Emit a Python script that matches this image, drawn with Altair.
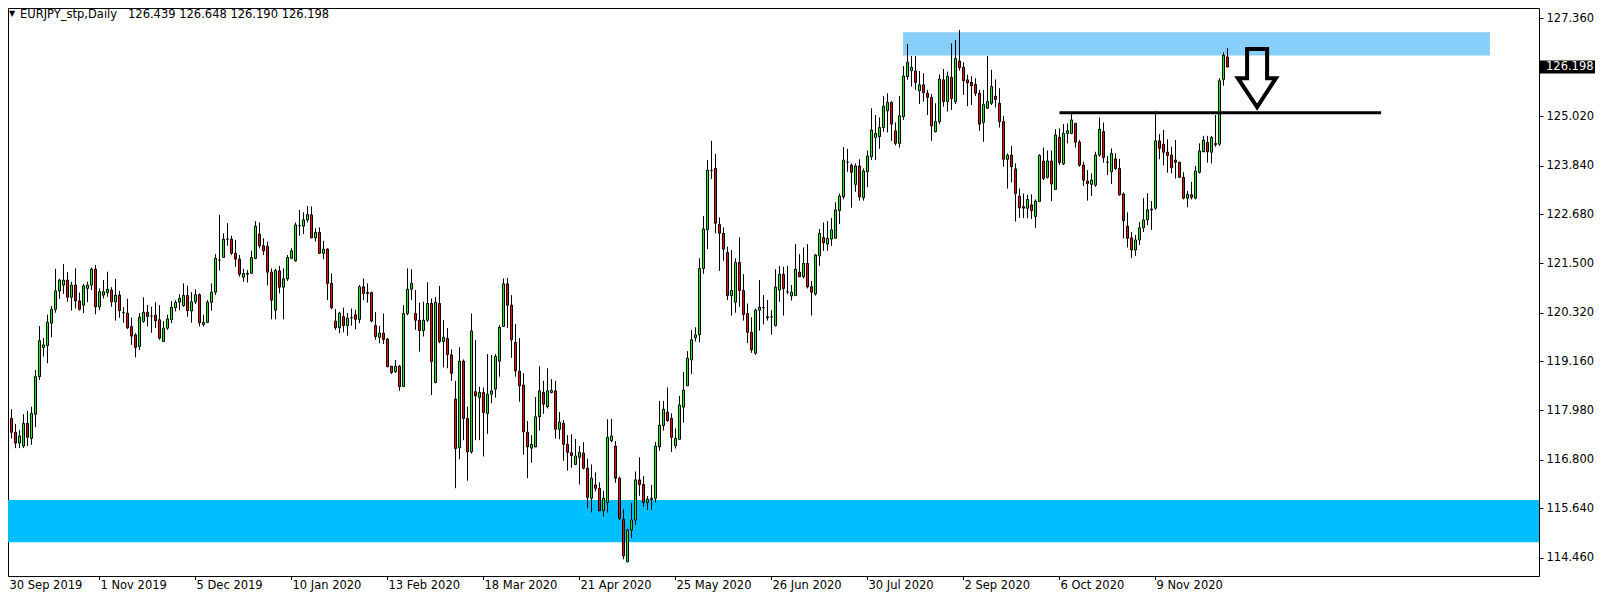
import altair as alt
import pandas as pd
import numpy as np

# ---------------- data ----------------
opens = [118.11,117.79,117.79,117.46,117.20,117.13,117.67,117.31,117.89,118.79,
119.49,119.53,120.07,120.40,120.84,120.98,121.10,120.69,120.98,120.60,
120.50,120.90,120.98,121.36,120.46,120.74,120.80,120.86,120.58,120.74,
120.32,120.31,119.99,119.79,119.51,120.11,120.33,120.24,120.26,120.15,
119.63,119.95,120.15,120.44,120.57,120.49,120.73,120.36,120.58,120.75,
120.04,120.09,120.57,120.81,121.58,121.64,122.08,122.08,121.74,121.60,
121.17,121.24,121.26,121.62,122.20,121.92,121.91,121.29,120.38,121.32,
120.93,121.13,121.62,121.56,122.40,122.39,122.54,122.66,122.11,122.24,
121.74,121.84,121.02,120.12,119.96,120.23,120.01,120.20,120.27,120.16,
120.94,120.80,120.80,120.01,119.73,119.83,119.69,119.04,118.91,119.04,
118.55,120.30,120.88,120.30,120.14,119.89,120.14,120.54,118.65,120.54,
119.63,119.70,119.31,118.25,117.09,119.16,117.79,116.99,118.43,118.29,
118.41,117.91,118.37,118.49,119.16,119.99,121.01,120.50,119.61,118.92,
118.59,117.46,117.08,117.11,117.83,118.41,118.07,118.41,118.45,117.53,
117.67,117.17,116.97,116.69,116.86,116.96,116.60,115.88,116.20,116.12,
115.58,115.78,117.26,117.13,116.36,115.38,114.36,115.12,115.36,116.32,
116.21,115.78,115.85,115.88,117.11,117.62,117.94,117.79,117.14,117.29,
118.06,118.57,119.19,119.72,119.79,121.38,122.31,123.72,123.77,122.43,
122.22,121.76,120.73,120.57,121.52,120.85,120.30,119.85,119.35,120.38,
120.44,120.22,120.22,120.01,120.86,121.24,120.82,120.72,120.73,121.29,
121.18,121.50,120.94,120.77,121.68,122.12,121.96,122.08,122.10,122.76,
123.09,123.92,123.85,123.39,123.83,123.07,123.69,124.05,124.51,124.53,
124.75,125.15,125.35,124.67,124.37,125.01,125.97,126.11,126.10,125.63,
125.77,125.57,125.47,124.65,124.89,125.89,125.37,125.95,125.37,126.34,
126.19,125.89,125.83,125.78,125.57,124.87,125.21,125.33,125.50,125.33,
124.89,123.99,124.09,123.76,123.11,122.86,122.82,122.90,122.62,122.98,
123.95,123.56,123.95,123.27,124.52,123.88,124.61,124.61,124.85,124.40,
123.85,123.47,123.39,123.37,124.09,124.65,123.92,123.69,124.00,123.77,
123.16,122.39,122.11,121.82,122.06,122.35,122.54,122.80,122.82,124.43,
124.35,124.16,124.09,123.97,123.92,123.56,123.06,123.14,123.06,123.68,
124.17,124.39,124.16,124.37,124.35,125.90,126.439]

highs = [118.19,118.19,118.01,117.66,117.51,117.89,117.97,118.07,118.95,120.00,
119.71,120.27,120.48,121.37,121.13,121.48,121.29,121.06,121.38,120.80,
121.01,121.06,121.40,121.46,120.90,121.10,121.30,120.93,121.13,120.84,
120.45,120.65,120.20,119.83,120.31,120.69,120.50,120.46,120.57,120.50,
120.12,120.27,120.60,120.62,120.76,121.02,120.96,120.81,120.88,120.78,
120.27,120.62,121.02,121.72,122.66,122.22,122.46,122.16,122.06,121.70,
121.37,121.34,121.80,122.51,122.48,122.10,122.02,121.38,121.37,121.44,
121.38,121.70,121.86,122.48,122.78,122.72,122.87,122.86,122.34,122.36,
122.04,121.86,121.26,120.41,120.34,120.44,120.31,120.42,120.39,120.98,
121.14,121.02,120.82,120.33,120.00,120.30,119.71,119.04,119.19,119.07,
120.50,121.38,121.36,120.86,120.56,120.58,121.05,120.66,120.69,120.96,
120.14,119.95,119.44,118.69,119.49,119.20,118.07,120.30,119.67,118.55,
118.53,119.33,119.31,119.33,120.02,121.14,121.15,120.74,120.05,119.71,
118.87,117.73,117.39,118.30,119.04,118.69,118.99,118.73,118.69,117.94,
117.75,117.39,117.41,117.30,117.13,117.22,116.83,116.69,116.50,116.26,
116.06,117.77,117.78,117.25,116.40,115.62,115.15,115.77,116.52,116.86,
116.41,115.93,116.20,117.23,118.21,118.21,118.53,117.91,117.55,118.33,
118.90,119.40,119.91,119.97,121.62,122.63,123.97,124.43,124.12,122.60,
122.36,121.90,121.82,121.62,122.12,121.24,120.54,120.21,120.42,121.10,
120.74,120.62,120.38,121.36,121.44,121.42,121.44,120.98,121.96,121.72,
121.88,121.96,121.08,121.72,122.32,122.48,122.51,122.59,122.96,123.17,
124.28,124.24,123.89,123.89,123.99,123.77,124.20,125.21,125.05,124.99,
125.50,125.57,125.38,124.87,125.50,126.22,126.75,126.46,126.46,126.10,
126.05,125.65,125.55,125.33,126.02,126.15,126.09,126.76,126.84,127.08,
126.31,126.01,125.98,125.93,125.65,125.65,126.46,126.13,125.90,125.69,
125.03,124.13,124.31,123.89,123.29,123.17,123.14,123.15,123.03,124.11,
124.27,124.20,124.20,124.71,124.73,124.83,124.85,125.07,124.85,124.45,
123.93,123.73,123.65,124.17,124.99,124.87,124.07,124.25,124.13,124.00,
123.20,122.72,122.25,122.18,122.49,123.06,123.18,122.99,125.14,124.59,
124.69,124.47,124.29,124.45,123.93,123.68,123.23,123.45,123.83,124.37,
124.55,124.55,124.55,125.05,125.93,126.55,126.648]

lows = [117.53,117.51,117.31,117.08,117.08,117.08,117.13,117.16,117.58,118.71,
119.27,119.11,119.73,120.32,120.65,120.77,120.58,120.37,120.42,120.37,
120.31,120.57,120.86,120.28,120.38,120.66,120.70,120.46,120.13,120.20,
120.08,119.93,119.55,119.25,119.43,120.08,119.99,119.84,119.95,119.67,
119.63,119.91,120.07,120.35,120.38,120.46,120.22,120.08,120.53,119.99,
119.99,120.07,120.37,120.74,121.33,121.64,121.92,121.70,121.42,121.18,
121.06,121.04,121.25,121.60,121.86,121.70,120.97,120.16,120.16,120.78,
120.16,121.08,121.60,121.54,122.16,122.20,122.48,122.11,122.02,121.72,
121.60,120.62,120.40,119.91,119.83,119.85,119.77,120.01,119.92,120.07,
120.62,120.56,120.09,119.67,119.59,119.57,119.01,118.85,118.88,118.45,
118.55,120.26,120.62,119.91,119.39,119.75,120.10,118.35,118.63,119.59,
119.01,118.99,118.69,116.12,116.81,117.27,116.30,116.95,117.27,117.27,
116.88,117.42,118.15,118.29,118.79,119.99,119.95,119.24,118.79,118.19,
116.92,116.36,116.73,117.10,117.50,117.90,118.03,118.39,117.31,117.29,
116.78,116.54,116.61,116.68,116.21,116.57,115.64,115.54,116.04,115.58,
115.44,115.54,117.22,116.25,115.36,114.42,114.35,114.93,115.24,115.94,
115.68,115.60,115.60,115.78,117.02,117.50,117.71,116.99,117.07,117.29,
117.69,118.57,118.85,119.63,119.61,121.25,121.84,123.52,122.22,121.32,
121.56,120.62,120.25,120.32,120.46,120.13,119.59,119.36,119.31,119.89,
120.04,120.13,119.79,119.99,120.58,120.25,120.76,120.61,120.72,121.17,
121.14,120.90,120.25,120.73,121.44,121.80,121.80,121.92,122.10,122.44,
123.03,123.69,122.83,123.21,123.00,123.00,123.32,123.97,123.97,124.24,
124.65,124.63,124.43,124.32,124.27,124.93,125.89,125.73,125.65,125.31,
125.37,125.05,124.43,124.63,124.83,125.25,125.13,125.17,125.31,126.11,
125.53,125.26,125.29,125.50,124.67,124.41,125.19,125.29,125.23,124.75,
123.81,123.29,123.44,122.50,122.59,122.58,122.58,122.56,122.35,122.98,
123.49,123.53,122.99,123.27,123.85,123.85,124.37,124.59,124.27,123.81,
123.35,123.00,123.11,123.33,124.05,123.91,123.61,123.40,123.73,123.12,
122.10,121.88,121.63,121.68,121.94,122.25,122.42,122.30,122.78,123.99,
123.84,123.67,123.65,123.53,123.55,123.03,122.84,123.03,123.03,123.65,
124.16,123.91,123.89,124.29,124.31,125.75,126.190]

closes = [117.77,117.78,117.46,117.20,117.37,117.67,117.34,117.91,118.79,119.65,
119.55,120.09,120.40,120.84,121.10,121.10,120.69,120.98,120.60,120.40,
120.96,120.98,121.36,120.46,120.82,120.82,120.88,120.58,120.74,120.37,
120.32,119.96,119.76,119.49,120.21,120.33,120.23,120.24,120.13,119.71,
119.95,120.17,120.45,120.57,120.66,120.73,120.37,120.58,120.75,120.08,
120.09,120.57,120.81,121.62,121.58,122.08,122.08,121.74,121.60,121.24,
121.26,121.26,121.64,122.39,121.92,121.80,121.29,120.62,121.33,120.93,
121.13,121.64,121.80,122.42,122.40,122.54,122.67,122.11,122.24,121.74,
121.84,121.02,120.44,119.96,120.31,120.01,120.19,120.20,120.16,120.94,
120.78,120.78,120.12,119.75,119.83,119.68,119.03,118.89,119.04,118.55,
120.30,120.88,121.02,120.14,119.89,120.14,120.54,119.15,120.57,119.63,
119.73,119.32,118.87,117.07,119.16,117.79,116.99,119.88,118.33,118.41,
117.93,118.37,118.45,119.27,119.97,121.01,120.50,119.67,118.93,118.57,
117.47,117.11,117.17,117.83,118.45,118.13,118.45,118.46,117.53,117.70,
117.17,116.98,116.90,116.89,116.98,116.60,115.90,116.36,116.12,115.58,
115.88,117.34,117.37,116.36,115.40,114.50,115.12,115.36,116.32,116.21,
115.78,115.86,115.88,117.13,117.63,118.01,117.74,117.34,117.31,118.11,
118.47,119.23,119.67,119.79,121.38,122.32,123.73,123.72,122.46,122.22,
121.84,120.73,120.85,121.52,120.85,120.28,119.85,119.43,120.38,120.45,
120.44,120.20,120.22,120.93,121.24,120.90,120.82,120.81,121.36,121.18,
121.50,120.94,120.81,121.70,122.22,121.99,122.10,122.30,122.78,123.11,
123.97,123.92,123.68,123.83,123.09,123.71,124.07,124.69,124.61,124.75,
125.26,125.35,124.83,124.37,125.03,125.98,126.31,126.19,125.83,125.77,
125.58,125.47,124.79,124.89,125.91,125.37,125.98,125.44,126.40,126.18,
125.87,125.82,125.75,125.57,124.83,125.30,125.37,125.73,125.42,124.89,
123.99,124.09,123.81,123.17,122.83,122.82,123.03,122.76,122.99,124.08,
123.53,123.95,123.40,124.57,123.91,124.61,124.67,124.93,124.40,123.85,
123.49,123.41,123.49,124.09,124.71,124.03,123.92,124.13,123.77,123.14,
122.52,122.10,121.82,122.06,122.35,122.54,122.78,122.78,124.43,124.25,
124.16,124.08,123.79,123.92,123.56,123.06,123.15,123.08,123.71,124.19,
124.45,124.17,124.51,124.34,125.87,126.48,126.198]

date_idx = [0, 24, 48, 72, 96, 120, 144, 168, 192, 216, 240, 264, 288]
date_txt = ["30 Sep 2019", "1 Nov 2019", "5 Dec 2019", "10 Jan 2020", "13 Feb 2020",
            "18 Mar 2020", "21 Apr 2020", "25 May 2020", "26 Jun 2020", "30 Jul 2020",
            "2 Sep 2020", "6 Oct 2020", "9 Nov 2020"]
price_ticks = [127.36, 125.02, 123.84, 122.68, 121.50, 120.32, 119.16, 117.98, 116.80, 115.64, 114.46]
last_price = 126.198
title_name = "EURJPY_stp,Daily"
title_ohlc = "126.439 126.648 126.190 126.198"

# zones / annotations (in bar-index and price units)
upper_zone = {"i1": 224.9, "i2": 371.6, "p1": 127.03, "p2": 126.47}
lower_zone = {"p1": 115.84, "p2": 114.83}
level_line = {"i1": 264.0, "i2": 344.4, "p": 125.10}
arrow_i = [310.9, 315.9, 315.9, 318.1, 313.4, 308.6, 310.9, 310.9]
arrow_p = [126.63, 126.63, 125.93, 125.93, 125.24, 125.93, 125.93, 126.63]

# ---------------- build ----------------
W, H = 1531, 568
FONT = "DejaVu Sans"
FS = 11.5

n = len(opens)
df = pd.DataFrame({"i": np.arange(n), "o": opens, "h": highs, "l": lows, "c": closes})
df["top"] = df[["o", "c"]].max(axis=1)
df["bot"] = df[["o", "c"]].min(axis=1)
df["dir"] = np.where(df["c"] >= df["o"], "up", "down")
df["x1"] = df["i"] - 0.25
df["x2"] = df["i"] + 0.25

XS = alt.Scale(domain=[1.125, 383.875], nice=False, zero=False)
YS = alt.Scale(domain=[114.0203, 127.6088], nice=False, zero=False)
yaxis = alt.Axis(orient="right", values=price_ticks, format=".3f", title=None, grid=False,
                 domain=False, ticks=True, tickSize=4, tickColor="black", tickWidth=1,
                 labelColor="black", labelFont=FONT, labelFontSize=FS, labelPadding=3,
                 labelOverlap=False, labelFlush=False, labelBound=False)

def X(f):
    return alt.X(f, scale=XS, axis=None)

def Y(f):
    return alt.Y(f, scale=YS, axis=yaxis)

low_band = alt.Chart(pd.DataFrame([lower_zone])).mark_rect(color="#00BFFF").encode(
    x=alt.value(0), x2=alt.value(W), y=Y("p1:Q"), y2="p2:Q")

up_band = alt.Chart(pd.DataFrame([upper_zone])).mark_rect(color="#87CEFA", clip=True).encode(
    x=X("i1:Q"), x2="i2:Q", y=Y("p1:Q"), y2="p2:Q")

base = alt.Chart(df)
wicks = base.mark_rule(color="black", strokeWidth=1, clip=True).encode(
    x=X("i:Q"), y=Y("l:Q"), y2="h:Q")
bodies = base.mark_rect(stroke="black", strokeWidth=1, clip=True).encode(
    x=X("x1:Q"), x2="x2:Q", y=Y("bot:Q"), y2="top:Q",
    fill=alt.Fill("dir:N", scale=alt.Scale(domain=["up", "down"], range=["#00FF00", "#FF0000"]), legend=None))

level = alt.Chart(pd.DataFrame([level_line])).mark_rule(color="black", strokeWidth=3).encode(
    x=X("i1:Q"), x2="i2:Q", y=Y("p:Q"))

arrow_df = pd.DataFrame({"ai": arrow_i, "ap": arrow_p, "k": np.arange(len(arrow_i))})
arrow = alt.Chart(arrow_df).mark_line(color="black", strokeWidth=4, strokeJoin="miter",
                                       strokeCap="square").encode(
    x=X("ai:Q"), y=Y("ap:Q"), order="k:O")

dates_df = pd.DataFrame({"i": date_idx, "t": date_txt})
dates_df["xi"] = dates_df["i"].clip(lower=1.25)
date_ticks = alt.Chart(dates_df).mark_rule(color="black", strokeWidth=1).encode(
    x=X("i:Q"), y=alt.value(H), y2=alt.value(H + 4))
date_text = alt.Chart(dates_df).mark_text(align="left", baseline="alphabetic", font=FONT,
                                          fontSize=FS, color="black", dx=1).encode(
    x=X("xi:Q"), y=alt.value(H + 12.5), text="t:N")

lp_df = pd.DataFrame({"p": [last_price], "t": [f"{last_price:.3f}"]})
lp_box = alt.Chart(lp_df).mark_rect(color="black", yOffset=-6.5, y2Offset=6.5).encode(
    x=alt.value(W + 1), x2=alt.value(W + 56), y=Y("p:Q"), y2="p:Q")
lp_txt = alt.Chart(lp_df).mark_text(color="white", align="left", baseline="middle",
                                    font=FONT, fontSize=FS).encode(
    x=alt.value(W + 7), y=Y("p:Q"), text="t:N")

title_df = pd.DataFrame({"m": ["\u25bc"], "a": [title_name], "b": [title_ohlc]})
t0 = alt.Chart(title_df).mark_text(align="left", baseline="alphabetic", font=FONT,
                                   fontSize=8, color="black").encode(
    x=alt.value(1), y=alt.value(8), text="m:N")
t1 = alt.Chart(title_df).mark_text(align="left", baseline="alphabetic", font=FONT,
                                   fontSize=FS, color="black").encode(
    x=alt.value(12), y=alt.value(10), text="a:N")
t2 = alt.Chart(title_df).mark_text(align="left", baseline="alphabetic", font=FONT,
                                   fontSize=FS, color="black").encode(
    x=alt.value(120), y=alt.value(10), text="b:N")

chart = alt.layer(low_band, up_band, wicks, bodies, level, arrow, date_ticks, date_text,
                  lp_box, lp_txt, t0, t1, t2).properties(
    width=W, height=H,
    padding={"left": 0, "top": 0, "right": 57, "bottom": 16},
    autosize=alt.AutoSizeParams(type="none"),
    background="white",
).configure_view(stroke="black", strokeWidth=1)

chart.save("out.html", embed_options={"renderer": "svg", "actions": False})
